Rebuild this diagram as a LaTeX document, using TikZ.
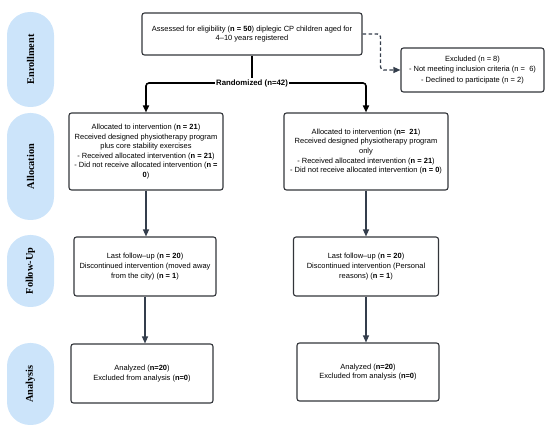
\documentclass[tikz,border=0pt]{standalone}
\usepackage{fontspec}
\setmainfont{Liberation Sans}
\newfontfamily\serifb{Liberation Serif}
\usetikzlibrary{arrows.meta}
\definecolor{pillc}{RGB}{204,228,250}
\definecolor{boxc}{RGB}{50,53,58}
\definecolor{arrc}{RGB}{52,62,76}
\newcommand{\fs}{\fontsize{7.5}{9.6}\selectfont}
\begin{document}
\begin{tikzpicture}[x=1pt,y=-1pt,
  box/.style={draw=boxc, rounded corners=2.5pt, line width=1.1pt, align=center, inner sep=0pt, font=\fs},
  pill/.style={fill=pillc, rounded corners=23pt, minimum width=95pt, minimum height=47pt, inner sep=0pt, rotate=90, font=\serifb\bfseries\fontsize{10.3}{12}\selectfont},
  arr/.style={-{Triangle[length=7pt,width=6pt]}, line width=1.3pt, draw=arrc},
  randline/.style={line width=1.6pt, draw=black, rounded corners=3pt},
  randarr/.style={randline, -{Triangle[length=7pt,width=6pt]}},
  dasharr/.style={arr, dashed, dash pattern=on 3.5pt off 2.5pt, rounded corners=3pt}]
\useasboundingbox (0,0) rectangle (550,433);
% stage pills
\node[pill, minimum width=95pt] (penr) at (30.5,59.5) {Enrollment};
\node[pill, minimum width=107pt] (palloc) at (30.5,166.5) {Allocation};
\node[pill, minimum width=72pt] (pfollow) at (30.5,271) {Follow-Up};
\node[pill, minimum width=82pt] (pana) at (30.5,384) {Analysis};
% boxes
\node[box, minimum width=220pt, minimum height=42pt] (top) at (252,34)
  {Assessed for eligibility (\textbf{n = 50}) diplegic CP children aged for\\4--10 years registered};
\node[box, minimum width=143pt, minimum height=44pt, font=\fontsize{7.5}{10.4}\selectfont] (exc) at (472.5,70)
  {Excluded (n = 8)\\- Not meeting inclusion criteria (n =~~6)\\- Declined to participate (n = 2)};
\node[box, minimum width=154pt, minimum height=77pt] (la) at (146,151.5)
  {Allocated to intervention (\textbf{n = 21})\\Received designed physiotherapy program\\plus core stability exercises\\- Received allocated intervention (\textbf{n = 21})\\- Did not receive allocated intervention (\textbf{n =}\\\textbf{0})};
\node[box, minimum width=164pt, minimum height=77pt] (ra) at (366,151.5)
  {Allocated to intervention (\textbf{n=~~21})\\Received designed physiotherapy program\\only\\- Received allocated intervention (\textbf{n = 21})\\- Did not receive allocated intervention (\textbf{n = 0})};
\node[box, minimum width=142pt, minimum height=59pt] (lf) at (145,266.5)
  {Last follow--up (\textbf{n = 20})\\Discontinued intervention (moved away\\from the city) (\textbf{n = 1})};
\node[box, minimum width=145pt, minimum height=59pt] (rf) at (366,266.5)
  {Last follow--up (\textbf{n = 20})\\Discontinued intervention (Personal\\reasons) (\textbf{n = 1})};
\node[box, minimum width=142pt, minimum height=59pt] (lan) at (142,373.5)
  {Analyzed (\textbf{n=20})\\Excluded from analysis (\textbf{n=0})};
\node[box, minimum width=142pt, minimum height=58pt] (ran) at (368,372)
  {Analyzed (\textbf{n=20})\\Excluded from analysis (\textbf{n=0})};
% randomized
\node[fill=white, inner sep=1pt, font=\bfseries\fontsize{7.8}{9}\selectfont] (rn) at (252,83) {Randomized (n=42)};
\draw[randline] (top.south) -- (rn.north);
\draw[randarr] (rn.west) -| (la.north);
\draw[randarr] (rn.east) -| (ra.north);
% excluded
\draw[dasharr] (top.east) -- ++(18,0) |- (exc.west);
% flow
\draw[arr] (la.south) -- (la.south |- lf.north);
\draw[arr] (ra.south) -- (ra.south |- rf.north);
\draw[arr] (lf.south) -- (lf.south |- lan.north);
\draw[arr] (rf.south) -- (rf.south |- ran.north);
\end{tikzpicture}
\end{document}
